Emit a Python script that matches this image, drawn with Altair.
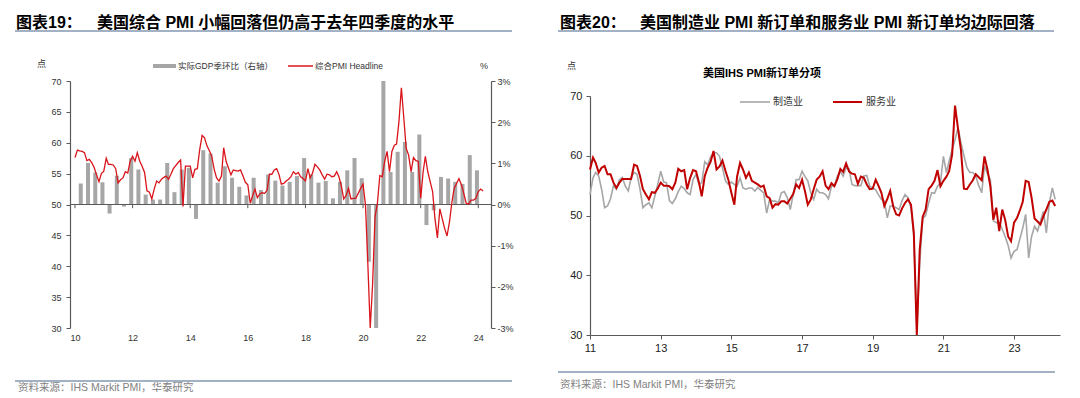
import altair as alt
import pandas as pd

FONT = "Liberation Sans, Noto Sans CJK SC"
RED_L = "#D9141B"
RED_R = "#C00000"
GRAY = "#A6A6A6"
AXIS = "#595959"
LINEC = "#8497B0"

# ---------------- left panel data ----------------
# 综合PMI Headline, monthly from 2010-01
composite_pmi = [
    57.6, 58.8, 58.7, 58.6, 58.4, 57.1, 57.3, 56.8, 56.0, 54.8, 53.7, 55.0,
    55.4, 57.5, 56.5, 56.5, 56.4, 55.8, 53.5, 54.0, 54.3, 55.3, 55.1, 57.0,
    57.8, 57.0, 58.4, 57.0, 56.2, 55.2, 52.2, 52.0, 50.9, 52.5, 53.8, 53.5,
    54.1, 54.4, 54.6, 54.1, 54.9, 55.8, 56.3, 56.8, 57.2, 49.7, 56.2, 56.2,
    56.2, 54.3, 55.7, 55.8, 58.9, 61.2, 60.8, 59.5, 58.7, 57.8, 55.7, 54.3,
    53.8, 54.6, 59.2, 57.0, 55.9, 54.8, 55.6, 55.5, 55.4, 55.6, 54.6, 53.6,
    53.2, 50.2, 51.4, 52.5, 51.1, 51.7, 51.9, 51.8, 52.3, 54.9, 54.9, 55.6,
    55.8, 54.8, 53.3, 53.4, 53.8, 54.1, 54.5, 55.3, 54.9, 55.2, 54.5, 54.2,
    53.8, 55.8, 54.3, 55.1, 56.5, 56.1, 55.6, 54.8, 54.1, 54.9, 54.8, 54.5,
    54.6, 55.3, 54.5, 53.0, 50.9, 51.5, 52.6, 50.9, 51.0, 51.0, 51.8, 52.6,
    53.3, 49.9, 40.7, 30.0, 37.0, 48.0, 50.2, 54.7, 54.5, 57.0, 58.6, 55.3,
    58.6, 59.6, 59.8, 63.5, 68.9, 64.0, 59.1, 58.0, 55.3, 57.6, 57.1, 57.0,
    51.0, 55.3, 57.8, 55.3, 53.7, 52.1, 47.7, 44.6, 49.3, 47.7, 46.1, 44.9,
    47.2, 50.4, 52.6, 53.4, 54.2, 53.2, 51.8, 50.2, 50.1, 50.7, 50.7, 51.0,
    52.1, 52.5, 52.2,
]
# 实际GDP季环比 (%), quarterly from 2010Q1
gdp_qoq = [
    0.51, 1.01, 0.78, 0.54,
    -0.22, 0.70, -0.05, 1.13,
    0.85, 0.24, 0.12, 0.12,
    1.01, 0.30, 0.85, 0.89,
    -0.35, 1.32, 1.24, 0.53,
    0.93, 0.65, 0.43, 0.22,
    0.65, 0.35, 0.73, 0.58,
    0.46, 0.55, 0.69, 1.13,
    0.73, 0.53, 0.57, 0.15,
    0.55, 0.83, 1.13, 0.64,
    -1.39, -3.0, 3.0, 0.79,
    1.28, 1.52, 0.79, 1.70,
    -0.50, -0.14, 0.67, 0.63,
    0.55, 0.50, 1.20, 0.83,
]
left_years = [2010, 2012, 2014, 2016, 2018, 2020, 2022, 2024]
left_yticks = [30, 35, 40, 45, 50, 55, 60, 65, 70]
right_pct_ticks = [-3, -2, -1, 0, 1, 2, 3]

# ---------------- right panel data ----------------
# 服务业 new orders, monthly from 2011-01
svc_new_orders = [
    57.7, 59.7, 58.8, 57.2, 58.0, 58.3, 56.9, 56.9, 55.5, 54.6, 55.5, 56.1,
    56.1, 56.1, 56.1, 58.5, 58.3, 56.6, 54.4, 53.5, 52.7, 53.9, 53.8, 54.5,
    55.5, 55.0, 55.0, 54.9, 54.4, 55.5, 57.8, 57.4, 57.6, 54.4, 56.3, 57.6,
    57.4, 55.5, 53.2, 56.6, 58.0, 59.0, 60.8, 57.7, 58.2, 59.2, 57.5, 56.0,
    53.8, 51.8, 56.5, 58.8, 57.7, 56.3, 57.2, 55.8, 55.5, 55.2, 54.8, 55.0,
    53.2, 52.9, 51.3, 51.9, 51.8, 52.4, 52.4, 52.0, 52.8, 53.6, 55.2, 54.6,
    56.0, 54.0, 51.8, 52.7, 54.4, 56.0, 56.5, 57.4, 55.0, 54.4, 55.4, 54.9,
    56.1, 57.8, 57.3, 58.7, 57.4, 57.0, 56.9, 55.3, 56.5, 56.3, 55.2, 54.4,
    54.5, 56.0, 55.0, 53.8, 51.6, 52.8, 54.1, 51.5, 50.2, 50.0, 51.2, 52.1,
    52.7, 51.8, 47.1, 30.0, 44.3, 49.8, 51.0, 54.4, 55.0, 55.8, 57.6, 54.9,
    55.8, 56.5, 57.4, 60.2, 68.4, 64.5, 61.0, 54.5, 54.4, 55.2, 55.9, 56.9,
    56.4, 55.9, 59.9, 57.7, 54.9, 49.3, 51.3, 47.4, 51.0, 49.3, 46.5, 45.7,
    48.8, 49.6, 50.8, 52.3, 55.8, 55.6, 53.0, 49.5, 49.0, 48.5, 49.9, 51.0,
    52.3, 52.5, 51.6,
]
# 制造业 new orders, monthly from 2011-01
mfg_new_orders = [
    53.5, 56.3, 57.2, 56.6, 54.4, 51.3, 51.6, 52.8, 55.0, 54.4, 56.0, 56.4,
    54.9, 54.1, 56.3, 57.2, 56.9, 54.4, 51.3, 51.8, 52.1, 51.3, 53.2, 55.2,
    57.4, 55.6, 55.5, 52.5, 52.0, 52.8, 54.0, 54.9, 54.5, 53.8, 53.5, 56.0,
    56.9, 55.2, 55.5, 59.0, 58.5, 59.8, 60.5, 60.5, 59.9, 58.0, 55.8, 55.2,
    55.6, 55.2, 54.9, 56.3, 54.6, 54.4, 54.6, 54.6, 54.1, 54.7, 54.2, 53.8,
    50.4, 52.7, 52.4, 52.4, 52.1, 53.8, 54.0, 53.0, 51.0, 53.5, 56.0, 56.0,
    57.4, 56.5, 55.8, 53.8, 52.7, 54.4, 53.8, 53.8, 53.5, 52.8, 54.9, 55.0,
    56.6, 57.4, 56.6, 58.0, 57.8, 55.2, 55.0, 55.0, 55.0, 56.6, 56.7, 54.9,
    54.6, 54.3, 53.5, 52.7, 52.4, 49.6, 51.6, 51.6, 51.3, 51.0, 52.5, 53.5,
    53.0, 51.3, 46.5, 31.0, 42.0, 49.5, 50.0, 52.1, 53.8, 53.7, 54.9, 55.5,
    59.9, 57.2, 59.1, 61.0, 62.7, 64.7, 62.2, 60.0, 58.0, 57.2, 57.2, 56.6,
    55.0, 53.8, 58.3, 57.0, 56.0, 49.1, 48.8, 48.8, 47.7, 46.5, 45.0, 42.9,
    44.0, 44.3, 46.0, 47.9, 50.2, 42.9, 46.5, 48.2, 47.4, 49.1, 50.7, 47.1,
    52.1, 54.6, 52.7,
]
right_years = [2011, 2013, 2015, 2017, 2019, 2021, 2023]
right_yticks = [30, 40, 50, 60, 70]


def fmt(d):
    return d.strftime("%Y-%m-%dT00:00:00")


pmi_df = pd.DataFrame({
    "date": [fmt(d) for d in pd.date_range("2010-01-01", periods=len(composite_pmi), freq="MS")],
    "pmi": composite_pmi,
})
gdp_df = pd.DataFrame({
    "date": [f"{2010 + k // 4}-{3 * (k % 4) + 3:02d}-15T00:00:00" for k in range(len(gdp_qoq))],
    "gdp": gdp_qoq,
})
ytick_df = pd.DataFrame({
    "date": [f"{y}-01-01T00:00:00" for y in left_years],
    "pmi": [50] * len(left_years),
    "pmi2": [49.4] * len(left_years),
})
base_df = pd.DataFrame({"pmi": [50]})
rdates = [fmt(d) for d in pd.date_range("2011-01-01", periods=len(svc_new_orders), freq="MS")]
svc_df = pd.DataFrame({"date": rdates, "v": svc_new_orders})
mfg_df = pd.DataFrame({"date": rdates, "v": mfg_new_orders})


def txt(s, x, y, size=10, color="#333333", weight="normal", align="left", baseline="middle"):
    return alt.Chart(pd.DataFrame({"t": [s]})).mark_text(
        align=align, baseline=baseline, fontSize=size, color=color,
        fontWeight=weight, font=FONT
    ).encode(text="t:N", x=alt.value(x), y=alt.value(y))


def hrule(x1, x2, y, color, width):
    return alt.Chart(pd.DataFrame({"a": [0]})).mark_rule(color=color, strokeWidth=width).encode(
        x=alt.value(x1), x2=alt.value(x2), y=alt.value(y))


# ---------------- left panel ----------------
W1, H1 = 421, 247
x1_scale = alt.Scale(domain=[alt.DateTime(year=2010, month=1, date=1),
                             alt.DateTime(year=2024, month=4, date=8)])
y1_scale = alt.Scale(domain=[30, 70])
x1_axis = alt.Axis(values=[alt.DateTime(year=y, month=1, date=1) for y in left_years],
                   format="%y", title=None, grid=False, domain=False, ticks=False,
                   labelFlush=False, labelAlign="center", labelPadding=5, labelFontSize=9,
                   labelColor="#333333", labelFont=FONT)
y1_axis = alt.Axis(orient="left", values=left_yticks, title=None, grid=False,
                   domainColor=AXIS, domainWidth=1.2, tickColor=AXIS, tickSize=4,
                   labelPadding=5, labelFontSize=9, labelColor="#333333", labelFont=FONT)

bars = alt.Chart(gdp_df).mark_bar(size=4, color=GRAY).encode(
    x=alt.X("date:T", scale=x1_scale, axis=x1_axis),
    y=alt.Y("gdp:Q", scale=alt.Scale(domain=[-3, 3]),
            axis=alt.Axis(orient="right", values=right_pct_ticks, labelExpr="datum.value + '%'",
                          title=None, grid=False, domainColor=AXIS, domainWidth=1.2,
                          tickColor=AXIS, tickSize=4, labelPadding=2, labelFontSize=9,
                          labelColor="#333333", labelFont=FONT)),
)

base50 = alt.Chart(base_df).mark_rule(color=AXIS, strokeWidth=1.2).encode(
    y=alt.Y("pmi:Q", scale=y1_scale, axis=y1_axis), x=alt.value(0), x2=alt.value(W1))
yticks = alt.Chart(ytick_df).mark_rule(color=AXIS, strokeWidth=1).encode(
    x=alt.X("date:T", scale=x1_scale, axis=x1_axis),
    y=alt.Y("pmi:Q", scale=y1_scale, axis=y1_axis), y2="pmi2:Q")
pmi_line = alt.Chart(pmi_df).mark_line(color=RED_L, strokeWidth=1.3).encode(
    x=alt.X("date:T", scale=x1_scale, axis=x1_axis),
    y=alt.Y("pmi:Q", scale=y1_scale, axis=y1_axis),
)

left_annot = [
    txt("图表19：", -54, -66, size=16, color="#000000", weight="bold", baseline="top"),
    txt("美国综合 PMI 小幅回落但仍高于去年四季度的水平", 27, -66, size=16, color="#000000",
        weight="bold", baseline="top"),
    hrule(-55, 442, -50, LINEC, 1.5),
    txt("点", -33, -17, size=9),
    txt("%", 410, -15, size=9),
    alt.Chart(pd.DataFrame({"a": [0]})).mark_rect(color=GRAY).encode(
        x=alt.value(83), x2=alt.value(106), y=alt.value(-17), y2=alt.value(-13)),
    txt("实际GDP季环比（右轴）", 108, -15, size=8.5),
    hrule(218, 243, -15, RED_L, 1.5),
    txt("综合PMI Headline", 245, -15, size=8.5),
    hrule(-55, 442, 300, LINEC, 1.5),
    txt("资料来源：IHS Markit PMI，华泰研究", -52, 307, size=10.5, color="#7F7F7F"),
]

inner1 = alt.layer(base50, yticks, pmi_line, *left_annot)
panel1 = alt.layer(bars, inner1).resolve_scale(y="independent").properties(width=W1, height=H1)

# ---------------- right panel ----------------
W2, H2 = 470, 254
x2_scale = alt.Scale(domain=[alt.DateTime(year=2011, month=1, date=1),
                             alt.DateTime(year=2024, month=4, date=20)])
y2_scale = alt.Scale(domain=[30, 70], range=[H2, 15])
x2_axis = alt.Axis(values=[alt.DateTime(year=y, month=1, date=1) for y in right_years],
                   format="%y", title=None, grid=False, domainColor=AXIS, domainWidth=1.2,
                   tickColor=AXIS, tickSize=4, labelFlush=False, labelAlign="center",
                   labelPadding=3, labelFontSize=11, labelColor="#222222", labelFont=FONT)
y2_axis = alt.Axis(orient="left", values=right_yticks, title=None, grid=False,
                   domainColor=AXIS, domainWidth=1.2, tickColor=AXIS, tickSize=4,
                   labelPadding=4, labelFontSize=11, labelColor="#222222", labelFont=FONT)

mfg_line = alt.Chart(mfg_df).mark_line(color=GRAY, strokeWidth=1.6).encode(
    x=alt.X("date:T", scale=x2_scale, axis=x2_axis),
    y=alt.Y("v:Q", scale=y2_scale, axis=y2_axis),
)
svc_line = alt.Chart(svc_df).mark_line(color=RED_R, strokeWidth=2).encode(
    x=alt.X("date:T", scale=x2_scale, axis=x2_axis),
    y=alt.Y("v:Q", scale=y2_scale, axis=y2_axis),
)

right_annot = [
    txt("图表20：", -30, -66, size=16, color="#000000", weight="bold", baseline="top"),
    txt("美国制造业 PMI 新订单和服务业 PMI 新订单均边际回落", 50, -66, size=16, color="#000000",
        weight="bold", baseline="top"),
    hrule(-32, 464, -50, LINEC, 1.5),
    txt("点", -23, -15, size=9),
    txt("美国IHS PMI新订单分项", 172, -7, size=11, color="#000000", weight="bold", align="center"),
    hrule(150, 180, 21, GRAY, 1.6),
    txt("制造业", 183, 21, size=10),
    hrule(243, 272, 21, RED_R, 2),
    txt("服务业", 276, 21, size=10),
    hrule(-32, 465, 291, LINEC, 1.5),
    txt("资料来源：IHS Markit PMI，华泰研究", -30, 304, size=10.5, color="#7F7F7F"),
]

panel2 = alt.layer(mfg_line, svc_line, *right_annot).properties(width=W2, height=H2)

chart = alt.hconcat(panel1, panel2, spacing=99, bounds="flush").properties(
    padding={"left": 6, "top": 7, "right": 4, "bottom": 4}
).configure(font=FONT).configure_view(stroke=None)

chart.save("out.html", embed_options={"renderer": "svg", "actions": False})
